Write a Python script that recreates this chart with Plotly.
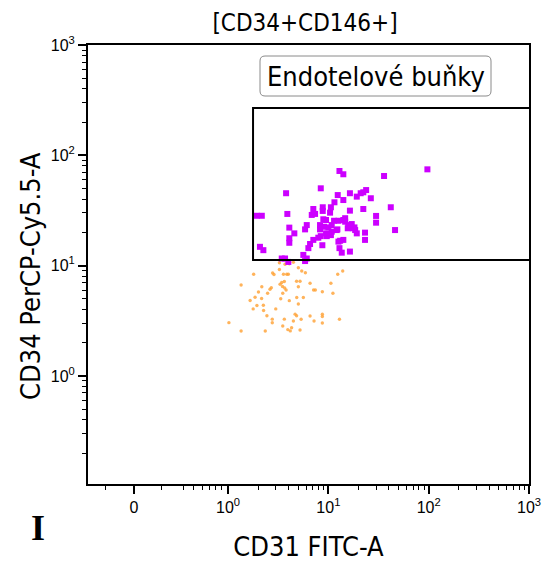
import plotly.graph_objects as go

# CD31 FITC-A / CD34 PerCP-Cy5.5-A events inside the endothelial gate
gated_cd31 = [12.9, 14.1, 35.9, 97.1, 3.79, 8.40, 12.4, 16.4, 19.2, 21.0,
              22.3, 23.8, 14.1, 26.5, 11.5, 10.6, 8.79, 8.79, 7.08, 7.37,
              6.83, 16.4, 22.3, 41.9, 1.93, 2.17, 3.90, 29.9, 29.9, 46.2,
              4.08, 4.58, 6.09, 5.86, 4.08, 4.08, 7.08, 6.57, 6.32, 8.71,
              13.1, 14.1, 12.9, 13.6, 16.4, 2.08, 2.25, 3.43, 3.70, 3.99,
              5.63, 6.09, 5.86, 23.2, 23.2, 15.6, 12.1, 9.48, 9.64, 8.40,
              10.6, 12.6, 14.1, 11.4, 12.6, 14.7, 14.7, 15.8, 17.1, 17.5,
              18.5, 19.2, 12.3, 10.8, 10.4, 8.91, 8.26, 9.06, 10.0, 9.48,
              7.94, 18.2, 10.8, 8.26]
gated_cd34 = [72.1, 67.3, 64.9, 74.6, 45.3, 50.2, 43.6, 45.3, 42.2, 45.3,
              46.2, 48.4, 39.3, 40.8, 37.5, 33.8, 33.8, 31.3, 32.6, 29.4,
              28.8, 31.5, 32.6, 33.8, 28.3, 28.3, 29.4, 28.2, 24.5, 21.0,
              22.1, 19.6, 23.3, 21.3, 17.7, 16.1, 17.1, 15.7, 14.4, 15.3,
              16.8, 17.1, 14.4, 13.1, 13.4, 14.8, 13.8, 11.6, 11.6, 10.8,
              12.5, 11.6, 11.0, 19.9, 17.1, 21.8, 21.0, 25.9, 18.5, 18.5,
              18.9, 16.5, 25.9, 25.5, 25.5, 26.9, 25.0, 23.3, 23.8, 21.8,
              21.0, 19.6, 21.3, 20.3, 30.2, 26.3, 21.3, 22.5, 22.2, 19.6,
              17.9, 22.2, 23.3, 23.3]

# Events of the parent population falling outside the gate
other_cd31 = [3.25, 3.70, 4.08, 4.48, 1.80, 2.78, 2.87, 3.25, 3.57, 3.85,
              3.99, 5.02, 5.43, 5.90, 12.4, 13.9, 1.35, 2.17, 3.30, 3.43,
              3.49, 3.64, 4.82, 5.22, 5.02, 6.57, 10.6, 2.62, 2.48, 2.01,
              3.79, 3.51, 3.67, 7.12, 7.42, 8.71, 11.1, 1.86, 2.16, 3.35,
              4.08, 4.84, 5.63, 1.66, 1.94, 2.25, 1.78, 2.26, 2.99, 5.02,
              2.44, 4.66, 4.82, 6.57, 8.71, 8.71, 2.76, 2.76, 3.64, 4.48,
              5.35, 7.20, 8.71, 12.9, 1.02, 3.51, 3.94, 4.17, 4.30, 5.22,
              1.35, 2.35, 2.70]
other_cd34 = [10.6, 10.3, 10.4, 10.7, 8.34, 8.57, 8.30, 9.22, 8.34, 8.34,
              8.34, 9.57, 8.93, 8.62, 8.34, 8.93, 6.67, 6.44, 6.77, 7.03,
              6.47, 7.18, 7.21, 7.21, 6.44, 6.91, 6.91, 6.10, 5.61, 5.76,
              6.01, 5.61, 6.27, 6.01, 6.01, 5.80, 5.61, 5.16, 5.03, 5.01,
              4.81, 5.14, 5.14, 4.83, 4.35, 4.37, 4.05, 3.92, 4.05, 4.49,
              3.51, 3.63, 3.51, 3.49, 3.63, 3.46, 3.27, 3.03, 3.27, 3.15,
              3.26, 3.15, 3.02, 3.26, 3.04, 2.83, 2.63, 2.56, 2.73, 2.61,
              2.55, 2.55, 6.31]

# Gate limits (CD31 low, CD34 low / high); the gate is open to the right
gate_cd31 = [1.775, 1000]
gate_cd34 = [11.25, 268.6]

# Axis ticks
x_zero_pos = 0.1156  # where 0 sits on the biexponential CD31 display
x_major = [x_zero_pos, 1, 10, 100, 1000]
x_major_text = ["0", "10<sup>0</sup>", "10<sup>1</sup>", "10<sup>2</sup>", "10<sup>3</sup>"]
x_minor_low = [0.06, 0.215, 0.356, 0.448, 0.551, 0.646, 0.742, 0.852]
y_major = [1, 10, 100, 1000]
y_major_text = ["10<sup>0</sup>", "10<sup>1</sup>", "10<sup>2</sup>", "10<sup>3</sup>"]

decade_minor = [k * 10 ** d for d in (0, 1, 2) for k in range(2, 10)]
y_minor = [k * 0.1 for k in range(2, 10)] + decade_minor
x_minor = x_minor_low + decade_minor

W, H = 545, 563
M_L, M_R, M_T, M_B = 88, 16, 45, 79
PW, PH = W - M_L - M_R, H - M_T - M_B


def px_to_paper(px, py):
    return (px - M_L) / PW, (H - M_B - py) / PH


fig = go.Figure()

fig.add_trace(go.Scatter(
    x=other_cd31, y=other_cd34, mode="markers",
    marker=dict(symbol="circle", size=3.4, color="rgba(255,160,50,0.8)", line=dict(width=0)),
    hoverinfo="skip", showlegend=False))

fig.add_trace(go.Scatter(
    x=gated_cd31, y=gated_cd34, mode="markers",
    marker=dict(symbol="square", size=6, color="#CC00FF", line=dict(width=0)),
    hoverinfo="skip", showlegend=False))

gx0, gx1 = gate_cd31
gy0, gy1 = gate_cd34
fig.add_trace(go.Scatter(
    x=[gx1, gx0, gx0, gx1], y=[gy1, gy1, gy0, gy0], mode="lines",
    line=dict(color="black", width=2), hoverinfo="skip", showlegend=False))

# Rounded label box for the gate name
bx0, by0 = px_to_paper(260, 96)
bx1, by1 = px_to_paper(491, 56)
rx, ry = 5 / PW, 5 / PH
path = (f"M {bx0+rx},{by0} L {bx1-rx},{by0} Q {bx1},{by0} {bx1},{by0+ry} "
        f"L {bx1},{by1-ry} Q {bx1},{by1} {bx1-rx},{by1} L {bx0+rx},{by1} "
        f"Q {bx0},{by1} {bx0},{by1-ry} L {bx0},{by0+ry} Q {bx0},{by0} {bx0+rx},{by0} Z")
fig.add_shape(type="path", path=path, xref="paper", yref="paper",
              line=dict(color="#8a8a8a", width=1), fillcolor="white", layer="above")

label_font = "DejaVu Sans Condensed, DejaVu Sans, sans-serif"
fig.add_annotation(text="Endotelové buňky", xref="paper", yref="paper",
                   x=(bx0 + bx1) / 2, y=(by0 + by1) / 2, showarrow=False,
                   font=dict(family=label_font, size=27, color="black"),
                   xanchor="center", yanchor="middle")

ix, iy = px_to_paper(38, 528)
fig.add_annotation(text="<b>I</b>", xref="paper", yref="paper",
                   x=ix, y=iy, showarrow=False,
                   font=dict(family="Liberation Serif, serif", size=36, color="black"),
                   xanchor="center", yanchor="middle")

# y-axis title, placed slightly below the plot centre
tx, ty = px_to_paper(30, 276)
fig.add_annotation(text="CD34 PerCP-Cy5.5-A", xref="paper", yref="paper",
                   x=tx, y=ty, showarrow=False, textangle=-90,
                   font=dict(family=label_font, size=27, color="black"),
                   xanchor="center", yanchor="middle")

tick_font = dict(family="Liberation Sans, Arial, sans-serif", size=16, color="black")
axis_common = dict(
    type="log", showgrid=False, zeroline=False, automargin=False,
    showline=True, linecolor="black", linewidth=2, mirror=True,
    ticks="outside", ticklen=8, tickwidth=1.5, tickcolor="black",
    tickfont=tick_font, tickmode="array",
)

fig.update_xaxes(
    **axis_common, range=[-1.396, 3],
    tickvals=x_major, ticktext=x_major_text,
    minor=dict(tickmode="array", tickvals=x_minor, ticks="outside",
               ticklen=4, tickwidth=1.2, tickcolor="black", showgrid=False),
    title=dict(text="CD31 FITC-A", standoff=22,
               font=dict(family=label_font, size=27, color="black")),
)
fig.update_yaxes(
    **axis_common, range=[-0.98, 3],
    tickvals=y_major, ticktext=y_major_text,
    minor=dict(tickmode="array", tickvals=y_minor, ticks="outside",
               ticklen=4, tickwidth=1.2, tickcolor="black", showgrid=False),
)

fig.update_layout(
    width=W, height=H,
    margin=dict(l=M_L, r=M_R, t=M_T, b=M_B, autoexpand=False),
    paper_bgcolor="white", plot_bgcolor="white",
    title=dict(text="[CD34+CD146+]", x=305 / W, xanchor="center",
               y=1 - 23 / H, yanchor="middle", automargin=False,
               font=dict(family=label_font, size=24, color="black")),
)

fig.write_html("out.html")
